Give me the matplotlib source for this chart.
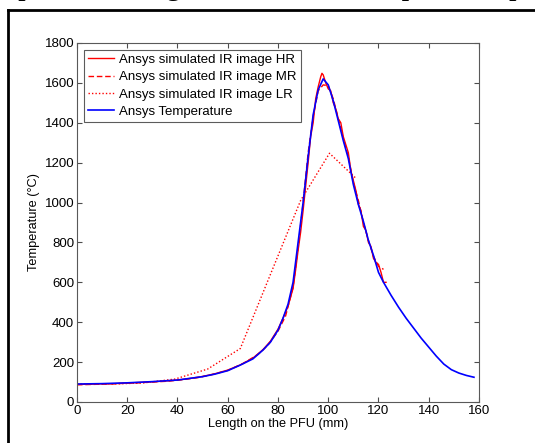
import matplotlib.pyplot as plt
from matplotlib.lines import Line2D

plt.rcParams['font.family'] = ['Liberation Sans', 'DejaVu Sans']

# Ansys temperature profile
x_temp = [0, 10, 20, 30, 40, 50, 55, 60, 65, 70, 74, 77, 80, 82, 84, 86, 88, 90, 92, 94,
          96, 98, 100, 102, 104, 106, 108, 110, 112, 114, 116, 118, 120, 122, 125, 128,
          131, 134, 137, 140, 143, 146, 149, 152, 155, 158]
t_temp = [90, 92, 96, 102, 110, 127, 140, 157, 185, 216, 260, 300, 360, 420, 490, 600,
          800, 1000, 1230, 1440, 1565, 1620, 1590, 1510, 1410, 1310, 1220, 1090, 990,
          905, 810, 735, 650, 600, 535, 475, 420, 370, 320, 275, 230, 190, 162, 145, 133,
          124]

# simulated IR image, high resolution
x_hr = [0, 5, 10, 15, 20, 25, 30, 35, 40, 45, 50, 55, 60, 65, 70, 74, 77, 80, 82, 84, 86,
        87, 88, 89, 90, 91, 92, 93, 94, 95, 96, 97, 97.5, 98, 99, 100, 101, 102, 103, 104,
        105, 106, 107, 108, 109, 110, 111, 112, 113, 114, 115, 116, 117, 118, 119, 120,
        121, 122, 123]
t_hr = [88, 89, 91, 92, 95, 98, 101, 105, 110, 118, 128, 142, 160, 186, 220, 262, 305,
        365, 420, 480, 570, 660, 760, 850, 960, 1080, 1200, 1330, 1400, 1520, 1580, 1630,
        1648, 1640, 1600, 1570, 1560, 1500, 1470, 1420, 1400, 1330, 1290, 1250, 1160, 1110,
        1060, 990, 960, 880, 860, 800, 780, 720, 700, 690, 650, 600, 600]

# medium resolution
x_mr = [0, 6, 12, 18, 24, 30, 36, 42, 48, 54, 60, 66, 72, 76, 80, 83, 86, 88, 90, 92, 94,
        96, 98, 100, 102, 104, 106, 108, 110, 112, 114, 116, 118, 120, 122]
t_mr = [86, 88, 90, 93, 96, 100, 104, 112, 122, 138, 158, 192, 238, 285, 355, 430, 575,
        770, 1000, 1250, 1430, 1560, 1590, 1585, 1520, 1420, 1320, 1230, 1100, 1010, 900,
        810, 730, 680, 665]

# low resolution
x_lr = [0, 13, 26, 39, 52, 65, 77, 89, 100.5, 111]
t_lr = [90, 90, 95, 115, 165, 268, 640, 1010, 1247, 1122]

fig = plt.figure(figsize=(5.35, 4.43), dpi=100)
ax = fig.add_axes([0.1439, 0.0926, 0.7514, 0.8104])

ax.plot(x_hr, t_hr, color='r', lw=1.0, label='Ansys simulated IR image HR')
ax.plot(x_mr, t_mr, color='r', lw=1.0, ls=(0, (4, 2)), label='Ansys simulated IR image MR')
ax.plot(x_lr, t_lr, color='r', lw=1.0, ls=(0, (1, 1.5)), label='Ansys simulated IR image LR')
ax.plot(x_temp, t_temp, color='b', lw=1.2, label='Ansys Temperature')

ax.set_xlim(0, 160)
ax.set_ylim(0, 1800)
ax.set_xticks(range(0, 161, 20))
ax.set_yticks(range(0, 1801, 200))
ax.tick_params(direction='in', top=True, right=True, labelsize=9.5, length=3.5,
               color='0.3', pad=2)
for s in ax.spines.values():
    s.set_color('0.35')
ax.set_xlabel('Length on the PFU (mm)', fontsize=9.2, labelpad=1)
ax.set_ylabel('Temperature (°C)', fontsize=9.2, labelpad=3)

leg = ax.legend(loc='upper left', fontsize=9.5, frameon=True, fancybox=False,
                edgecolor='0.2', handlelength=2.0, labelspacing=0.38, borderpad=0.32,
                handletextpad=0.4, borderaxespad=0.5)
leg.get_frame().set_linewidth(0.8)

# page border and cropped caption text from the document
fig.add_artist(Line2D([8 / 535, 8 / 535], [0, 1 - 10 / 443], color='k', lw=2,
                      transform=fig.transFigure))
fig.add_artist(Line2D([8 / 535, 1], [1 - 10 / 443, 1 - 10 / 443], color='k', lw=2,
                      transform=fig.transFigure))
fig.text(-0.006, 1 + 6 / 443, 'e presented together with the temperature p',
         family='Liberation Serif', fontsize=22, va='baseline', ha='left')

fig.savefig('out.png', dpi=100)
